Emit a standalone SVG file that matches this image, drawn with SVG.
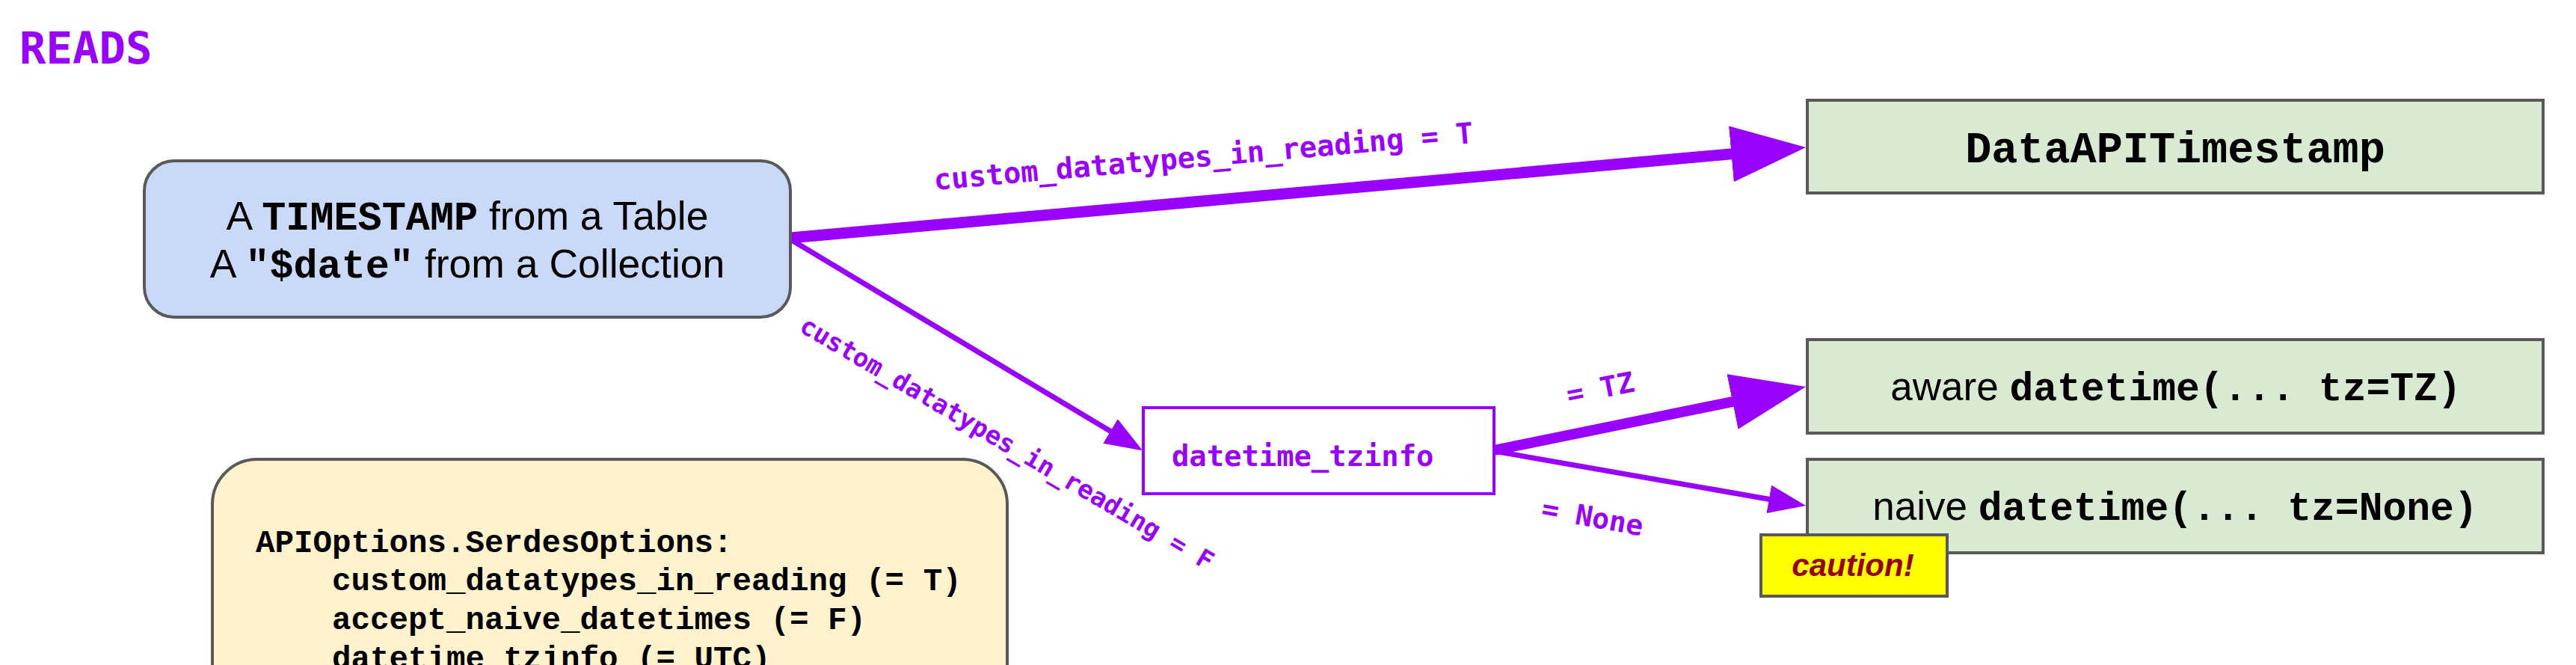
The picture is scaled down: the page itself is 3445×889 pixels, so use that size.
<svg xmlns="http://www.w3.org/2000/svg" width="3445" height="889" viewBox="0 0 3445 889">
<style>
.node{stroke:#595959;stroke-width:4}
.sans{font-family:"Liberation Sans",Arial,sans-serif;fill:#000}
.mono{font-family:"Liberation Mono","Courier New",monospace;font-weight:bold}
.lbl{font-family:"DejaVu Sans Mono",monospace;font-weight:bold;fill:#9900ff}
.conn{stroke:#9900ff;fill:none;stroke-linecap:butt}
</style>
<defs>
<marker id="headL" markerUnits="userSpaceOnUse" markerWidth="100" markerHeight="75" refX="5" refY="37.5" orient="auto" viewBox="0 0 100 75">
<path d="M0,0 L100,37.5 L0,75 z" fill="#9900ff"/>
</marker>
<marker id="headS" markerUnits="userSpaceOnUse" markerWidth="50" markerHeight="38" refX="5" refY="19" orient="auto" viewBox="0 0 50 38">
<path d="M0,0 L50,19 L0,38 z" fill="#9900ff"/>
</marker>
</defs>
<rect width="3445" height="889" fill="#ffffff"/>

<g id="title">
<text x="26" y="85" class="lbl" font-size="59">READS</text>
</g>

<g id="connectors">
<line class="conn" x1="1057" y1="318" x2="2320.4" y2="205.4" stroke-width="15" marker-end="url(#headL)"/>
<line class="conn" x1="1057" y1="320" x2="1489.3" y2="579.1" stroke-width="7" marker-end="url(#headS)"/>
<line class="conn" x1="1998" y1="602" x2="2321.9" y2="536" stroke-width="14" marker-end="url(#headL)"/>
<line class="conn" x1="1998" y1="603" x2="2370.7" y2="668.2" stroke-width="7" marker-end="url(#headS)"/>
<text class="lbl" font-size="38.8" x="1250" y="254" transform="rotate(-5.0 1250 254)">custom_datatypes_in_reading = T</text>
<text class="lbl" font-size="34" x="1067" y="442" transform="rotate(30.4 1067 442)">custom_datatypes_in_reading = F</text>
<text class="lbl" font-size="38" x="2098" y="541" transform="rotate(-11.3 2098 541)">= TZ</text>
<text class="lbl" font-size="38" x="2060" y="692" transform="rotate(10.3 2060 692)">= None</text>
</g>

<g id="source">
<rect class="node" x="193" y="215" width="864" height="209" rx="40" fill="#c9daf8" stroke-width="3"/>
<text class="sans" font-size="53.5" text-anchor="middle" x="625" y="307">A <tspan class="mono">TIMESTAMP</tspan> from a Table</text>
<text class="sans" font-size="53.5" text-anchor="middle" x="625" y="371">A <tspan class="mono">"$date"</tspan> from a Collection</text>
</g>

<g id="tzinfo">
<rect x="1529" y="545" width="469" height="115" fill="#ffffff" stroke="#9900ff" stroke-width="4"/>
<text class="lbl" font-size="38.8" x="1567" y="623">datetime_tzinfo</text>
</g>

<g id="dataapitimestamp">
<rect class="node" x="2417" y="134" width="984" height="124" fill="#d9ead3"/>
<text class="sans mono" font-size="58.5" text-anchor="middle" x="2909" y="217">DataAPITimestamp</text>
</g>

<g id="aware">
<rect class="node" x="2417" y="454" width="984" height="125" fill="#d9ead3"/>
<text class="sans" font-size="53" text-anchor="middle" x="2910" y="535">aware <tspan class="mono">datetime(... tz=TZ)</tspan></text>
</g>

<g id="naive">
<rect class="node" x="2417" y="614" width="984" height="125" fill="#d9ead3"/>
<text class="sans" font-size="53" text-anchor="middle" x="2909" y="695">naive <tspan class="mono">datetime(... tz=None)</tspan></text>
</g>

<g id="caution">
<rect class="node" x="2355" y="715" width="249" height="82" fill="#ffff00"/>
<text font-family="Liberation Sans, Arial, sans-serif" font-weight="bold" font-style="italic" font-size="42" fill="#990000" text-anchor="middle" x="2478" y="770">caution!</text>
</g>

<g id="options">
<rect class="node" x="284" y="614" width="1063" height="400" rx="60" fill="#fff2cc" stroke-width="3"/>
<text class="mono" font-size="42.5" x="342" y="738">APIOptions.SerdesOptions:</text>
<text class="mono" font-size="42.5" x="444" y="789">custom_datatypes_in_reading (= T)</text>
<text class="mono" font-size="42.5" x="444" y="841">accept_naive_datetimes (= F)</text>
<text class="mono" font-size="42.5" x="444" y="893">datetime_tzinfo (= UTC)</text>
</g>
</svg>
